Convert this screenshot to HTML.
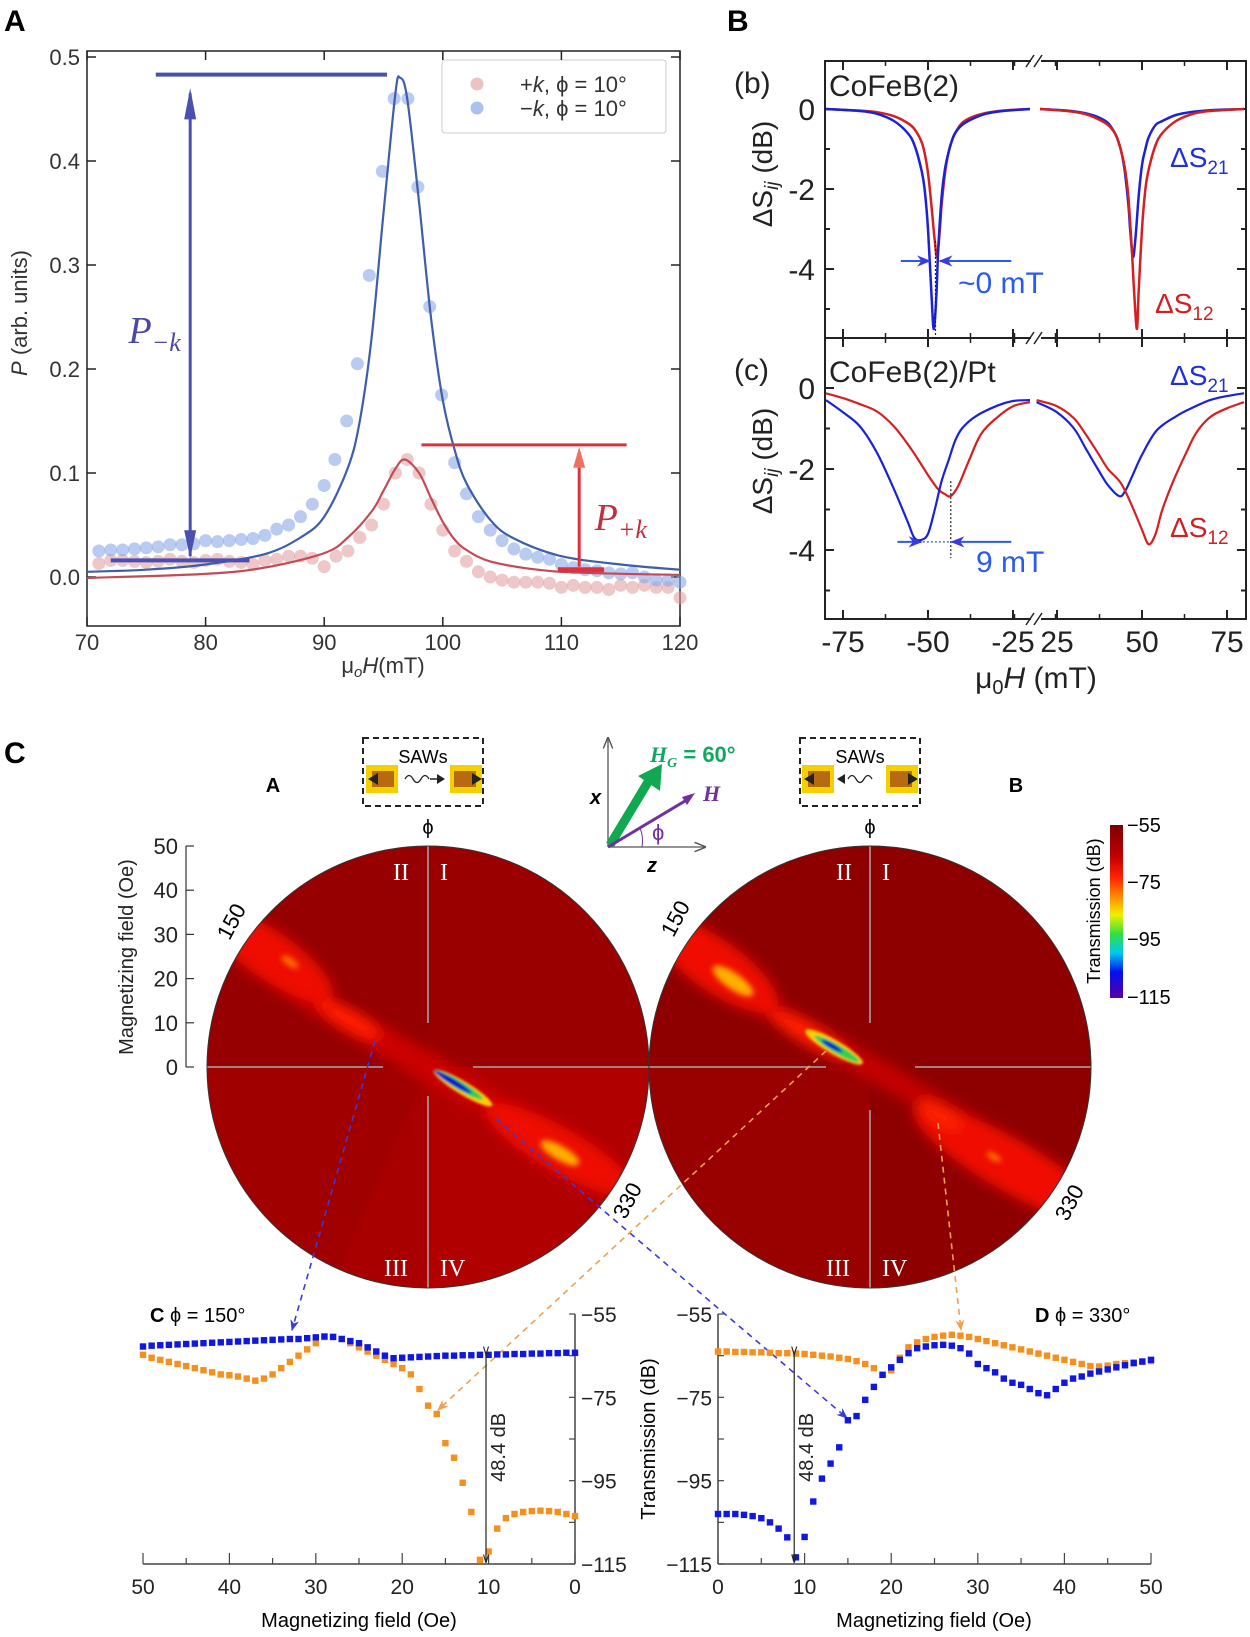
<!DOCTYPE html>
<html><head><meta charset="utf-8"><style>
html,body{margin:0;padding:0;background:#fff;}
svg{display:block;font-family:"Liberation Sans",sans-serif;}
</style></head><body>
<svg id="fig" width="1250" height="1637" viewBox="0 0 1250 1637" xmlns="http://www.w3.org/2000/svg">
<defs>
<filter id="bl6" x="-50%" y="-50%" width="200%" height="200%"><feGaussianBlur stdDeviation="6"/></filter>
<filter id="bl3" x="-50%" y="-50%" width="200%" height="200%"><feGaussianBlur stdDeviation="3"/></filter>
<filter id="bl1" x="-50%" y="-50%" width="200%" height="200%"><feGaussianBlur stdDeviation="1.2"/></filter>
<clipPath id="cl1"><circle cx="428" cy="1067" r="221"/></clipPath>
<clipPath id="cl2"><circle cx="870" cy="1067" r="221"/></clipPath>
<linearGradient id="cbar" x1="0" y1="0" x2="0" y2="1">
<stop offset="0" stop-color="#7a0000"/><stop offset="0.18" stop-color="#c00000"/><stop offset="0.3" stop-color="#ff2000"/><stop offset="0.42" stop-color="#ff9000"/><stop offset="0.52" stop-color="#f0f000"/><stop offset="0.63" stop-color="#30e040"/><stop offset="0.74" stop-color="#00c8f0"/><stop offset="0.85" stop-color="#0010f0"/><stop offset="1" stop-color="#5a00a0"/></linearGradient>
<marker id="ahB" viewBox="0 0 10 10" refX="9" refY="5" markerWidth="7" markerHeight="7" orient="auto"><path d="M0,1 L10,5 L0,9 L3,5z" fill="#3a3ae0"/></marker>
<marker id="ahO" viewBox="0 0 10 10" refX="9" refY="5" markerWidth="7" markerHeight="7" orient="auto"><path d="M0,1 L10,5 L0,9 L3,5z" fill="#f0a050"/></marker>
<marker id="ahK" viewBox="0 0 10 10" refX="9" refY="5" markerWidth="7" markerHeight="7" orient="auto"><path d="M0,2 L10,5 L0,8" fill="none" stroke="#222" stroke-width="1.3"/></marker>
<marker id="ahG" viewBox="0 0 10 10" refX="9" refY="5" markerWidth="9" markerHeight="9" orient="auto"><path d="M0,1 L10,5 L0,9" fill="none" stroke="#555" stroke-width="1.2"/></marker>
</defs>

<text x="4" y="31" font-size="30" font-weight="bold">A</text>
<text x="727" y="31" font-size="30" font-weight="bold">B</text>
<text x="4" y="763" font-size="30" font-weight="bold">C</text>

<g id="pa">
<rect x="87" y="51" width="593" height="575" fill="none" stroke="#222" stroke-width="1.5"/>
<text transform="translate(27,313) rotate(-90)" font-size="22" text-anchor="middle" fill="#333"><tspan font-style="italic">P</tspan> (arb. units)</text>
<text x="383" y="673" font-size="22" text-anchor="middle" fill="#333">μ<tspan font-size="15" font-style="italic" dy="4">o</tspan><tspan font-style="italic" dy="-4">H</tspan>(mT)</text>
<rect x="442" y="60" width="224" height="73" rx="3" fill="#fff" stroke="#ccc"/>
<circle cx="477" cy="84" r="6.5" fill="#e09a9a" opacity="0.6"/>
<circle cx="477" cy="108" r="6.5" fill="#90aee8" opacity="0.75"/>
<text x="520" y="92" font-size="22" fill="#333">+<tspan font-style="italic">k</tspan>, ϕ = 10°</text>
<text x="520" y="116" font-size="22" fill="#333">−<tspan font-style="italic">k</tspan>, ϕ = 10°</text>
</g>

<g id="pb">
<text transform="translate(772,174) rotate(-90)" font-size="28" text-anchor="middle" fill="#222">ΔS<tspan font-size="19" font-style="italic" dy="6">ij</tspan><tspan dy="-6"> (dB)</tspan></text>
<text transform="translate(772,461) rotate(-90)" font-size="28" text-anchor="middle" fill="#222">ΔS<tspan font-size="19" font-style="italic" dy="6">ij</tspan><tspan dy="-6"> (dB)</tspan></text>
<text x="1036" y="688" font-size="30" text-anchor="middle" fill="#222">μ<tspan font-size="20" dy="6">0</tspan><tspan font-style="italic" dy="-6">H</tspan> (mT)</text>
<text x="734" y="93" font-size="30" fill="#222">(b)</text>
<text x="829" y="96" font-size="30" fill="#222">CoFeB(2)</text>
<text x="734" y="380" font-size="30" fill="#222">(c)</text>
<text x="829" y="382" font-size="30" fill="#222">CoFeB(2)/Pt</text>
<text x="1170" y="167" font-size="28" fill="#2030d8">ΔS<tspan font-size="19" dy="7">21</tspan></text>
<text x="1155" y="313" font-size="28" fill="#d02020">ΔS<tspan font-size="19" dy="7">12</tspan></text>
<text x="1170" y="385" font-size="28" fill="#2030d8">ΔS<tspan font-size="19" dy="7">21</tspan></text>
<text x="1170" y="537" font-size="28" fill="#d02020">ΔS<tspan font-size="19" dy="7">12</tspan></text>
<text x="958" y="293" font-size="30" fill="#2a5af0">~0 mT</text>
<text x="976" y="572" font-size="30" fill="#2a5af0">9 mT</text>
</g>

<g>
<g clip-path="url(#cl1)">
<circle cx="428" cy="1067" r="221" fill="#a00000"/>
<path d="M428,1067 L206,1067 A222,222 0 0 1 428,846z" fill="#960000"/>
<path d="M428,1067 L428,846 A222,222 0 0 1 650,1067z" fill="#9a0000"/>
<path d="M428,1067 L428,1290 A222,222 0 0 0 650,1067z" fill="#b00000"/>
<path d="M428,1067 L330,1290 L428,1290z" fill="#a80000"/>
<g filter="url(#bl6)">
<ellipse cx="428" cy="1067" rx="230" ry="14" fill="#cc0000" transform="rotate(30 428 1067)"/>
<ellipse cx="270" cy="955" rx="75" ry="24" fill="#ee1000" transform="rotate(35 270 955)"/>
<ellipse cx="350" cy="1020" rx="35" ry="10" fill="#ff1a00" transform="rotate(30 350 1020)"/>
<ellipse cx="560" cy="1150" rx="85" ry="22" fill="#ee1000" transform="rotate(30 560 1150)"/>
</g>
<g filter="url(#bl3)">
<ellipse cx="290" cy="962" rx="10" ry="4" fill="#ff7000" transform="rotate(35 290 962)"/>
<ellipse cx="560" cy="1153" rx="22" ry="7" fill="#ffb000" transform="rotate(30 560 1153)"/>
</g>
<g filter="url(#bl1)">
<ellipse cx="463" cy="1088" rx="34" ry="6.5" fill="#ffcc00" transform="rotate(31 463 1088)"/>
<ellipse cx="459" cy="1085" rx="28" ry="4.5" fill="#30d050" transform="rotate(31 459 1085)"/>
<ellipse cx="453" cy="1082" rx="22" ry="3" fill="#0a10d0" transform="rotate(31 453 1082)"/>
</g>
<line x1="428" y1="846" x2="428" y2="1023" stroke="#aaa" stroke-width="1.5"/>
<line x1="428" y1="1096" x2="428" y2="1290" stroke="#aaa" stroke-width="1.5"/>
<line x1="206" y1="1067" x2="383" y2="1067" stroke="#aaa" stroke-width="1.5"/>
<line x1="473" y1="1067" x2="650" y2="1067" stroke="#aaa" stroke-width="1.5"/>
</g>
<circle cx="428" cy="1067" r="221" fill="none" stroke="#333" stroke-width="1"/>
<g font-family="Liberation Serif, serif" font-size="24" fill="#fff">
<text x="393" y="880">II</text><text x="440" y="880">I</text><text x="384" y="1276">III</text><text x="440" y="1276">IV</text>
</g>
<text x="428" y="834" font-size="20" text-anchor="middle">ϕ</text>
<text transform="translate(238,925) rotate(-62)" font-size="22" text-anchor="middle">150</text>
<text transform="translate(634,1204) rotate(-62)" font-size="22" text-anchor="middle">330</text>
<text x="273" y="792" font-size="20" font-weight="bold" text-anchor="middle">A</text>
</g>

<g>
<g clip-path="url(#cl2)">
<circle cx="870" cy="1067" r="221" fill="#8e0000"/>
<path d="M870,1067 L648,1067 A222,222 0 0 0 870,1290z" fill="#990000"/>
<g filter="url(#bl6)">
<ellipse cx="870" cy="1067" rx="230" ry="12" fill="#c40000" transform="rotate(30 870 1067)"/>
<ellipse cx="715" cy="965" rx="75" ry="26" fill="#f01000" transform="rotate(35 715 965)"/>
<ellipse cx="810" cy="1035" rx="45" ry="11" fill="#ff1a00" transform="rotate(30 810 1035)"/>
<ellipse cx="1010" cy="1165" rx="110" ry="26" fill="#f01000" transform="rotate(30 1010 1165)"/>
<ellipse cx="940" cy="1115" rx="25" ry="9" fill="#ff2000" transform="rotate(30 940 1115)"/>
</g>
<g filter="url(#bl3)">
<ellipse cx="733" cy="981" rx="24" ry="8" fill="#ffb000" transform="rotate(35 733 981)"/>
<ellipse cx="994" cy="1157" rx="8" ry="3" fill="#ff8000" transform="rotate(30 994 1157)"/>
</g>
<g filter="url(#bl1)">
<ellipse cx="834" cy="1047" rx="33" ry="7" fill="#ffcc00" transform="rotate(30 834 1047)"/>
<ellipse cx="837" cy="1049" rx="26" ry="4.5" fill="#30d050" transform="rotate(30 837 1049)"/>
<ellipse cx="832" cy="1046" rx="12" ry="2.5" fill="#0a10d0" transform="rotate(30 832 1046)"/>
</g>
<line x1="870" y1="846" x2="870" y2="1023" stroke="#aaa" stroke-width="1.5"/>
<line x1="870" y1="1110" x2="870" y2="1290" stroke="#aaa" stroke-width="1.5"/>
<line x1="648" y1="1067" x2="826" y2="1067" stroke="#aaa" stroke-width="1.5"/>
<line x1="915" y1="1067" x2="1092" y2="1067" stroke="#aaa" stroke-width="1.5"/>
</g>
<circle cx="870" cy="1067" r="221" fill="none" stroke="#333" stroke-width="1"/>
<g font-family="Liberation Serif, serif" font-size="24" fill="#fff">
<text x="836" y="880">II</text><text x="882" y="880">I</text><text x="826" y="1276">III</text><text x="882" y="1276">IV</text>
</g>
<text x="870" y="834" font-size="20" text-anchor="middle">ϕ</text>
<text transform="translate(682,922) rotate(-62)" font-size="22" text-anchor="middle">150</text>
<text transform="translate(1076,1206) rotate(-62)" font-size="22" text-anchor="middle">330</text>
<text x="1016" y="792" font-size="20" font-weight="bold" text-anchor="middle">B</text>
</g>

<g font-size="22" fill="#222">
<line x1="186" y1="846" x2="186" y2="1067" stroke="#333" stroke-width="1.2"/>
<text transform="translate(133,957) rotate(-90)" font-size="20" text-anchor="middle">Magnetizing field (Oe)</text>
</g>

<g>
<rect x="1110" y="825" width="13" height="173" fill="url(#cbar)"/>
<text x="1127" y="832" font-size="20">−55</text>
<text x="1127" y="889" font-size="20">−75</text>
<text x="1127" y="946" font-size="20">−95</text>
<text x="1127" y="1004" font-size="20">−115</text>
<text transform="translate(1100,911) rotate(-90)" font-size="18" text-anchor="middle">Transmission (dB)</text>
</g>

<g>
<rect x="363" y="738" width="120" height="68" fill="none" stroke="#222" stroke-width="2" stroke-dasharray="6,4"/>
<text x="423" y="763" font-size="18" text-anchor="middle">SAWs</text>
<rect x="366" y="765" width="32" height="28" fill="#f5d000"/><rect x="372" y="771" width="22" height="16" fill="#b86a10"/>
<path d="M368,779 L378,773 L378,785z" fill="#222"/>
<rect x="450" y="765" width="32" height="28" fill="#f5d000"/><rect x="454" y="771" width="22" height="16" fill="#b86a10"/>
<path d="M482,779 L472,773 L472,785z" fill="#222"/>
<path d="M405,779 q4,-7 8,0 t8,0 t8,0" fill="none" stroke="#222" stroke-width="1.3"/>
<path d="M430,779 L437,779" stroke="#222" stroke-width="1.5"/><path d="M437,774 L445,779 L437,784z" fill="#222"/>
</g>
<g>
<rect x="800" y="738" width="120" height="68" fill="none" stroke="#222" stroke-width="2" stroke-dasharray="6,4"/>
<text x="860" y="763" font-size="18" text-anchor="middle">SAWs</text>
<rect x="802" y="765" width="32" height="28" fill="#f5d000"/><rect x="808" y="771" width="22" height="16" fill="#b86a10"/>
<path d="M804,779 L814,773 L814,785z" fill="#222"/>
<rect x="886" y="765" width="32" height="28" fill="#f5d000"/><rect x="890" y="771" width="22" height="16" fill="#b86a10"/>
<path d="M918,779 L908,773 L908,785z" fill="#222"/>
<path d="M845,774 L837,779 L845,784z" fill="#222"/>
<path d="M848,779 q4,-7 8,0 t8,0 t8,0" fill="none" stroke="#222" stroke-width="1.3"/>
</g>

<g>
<line x1="608" y1="847" x2="608" y2="738" stroke="#555" stroke-width="1.3" marker-end="url(#ahG)"/>
<line x1="608" y1="847" x2="705" y2="847" stroke="#555" stroke-width="1.3" marker-end="url(#ahG)"/>
<text x="590" y="804" font-size="20" font-weight="bold" font-style="italic">x</text>
<text x="647" y="872" font-size="20" font-weight="bold" font-style="italic">z</text>
<line x1="610" y1="845" x2="648" y2="782" stroke="#10a850" stroke-width="9"/>
<path d="M638,776 L662,764 L660,791z" fill="#10a850"/>
<line x1="608" y1="847" x2="690" y2="798" stroke="#7030a0" stroke-width="3"/>
<path d="M682,797 L695,793 L687,805z" fill="#7030a0"/>
<path d="M640,828 A34,34 0 0 1 642,847" fill="none" stroke="#7030a0" stroke-width="1"/>
<text x="650" y="762" font-size="22" font-weight="bold" fill="#10a860" font-family="Liberation Serif, serif" font-style="italic">H<tspan font-size="14" dy="5">G</tspan><tspan dy="-5" font-family="Liberation Sans, sans-serif" font-style="normal"> = 60°</tspan></text>
<text x="703" y="801" font-size="22" font-weight="bold" font-style="italic" fill="#7030a0" font-family="Liberation Serif, serif">H</text>
<text x="652" y="840" font-size="22" fill="#7030a0">ϕ</text>
</g>

<text x="150" y="1322" font-size="20"><tspan font-weight="bold">C</tspan>  ϕ = 150°</text>
<text x="1035" y="1322" font-size="20"><tspan font-weight="bold">D</tspan>  ϕ = 330°</text>
<text x="359" y="1627" font-size="20" text-anchor="middle">Magnetizing field (Oe)</text>
<text x="934" y="1627" font-size="20" text-anchor="middle">Magnetizing field (Oe)</text>
<text transform="translate(655,1439) rotate(-90)" font-size="20" text-anchor="middle">Transmission (dB)</text>

<g fill="none" stroke-width="1.6" stroke-dasharray="6,5">
<line x1="375" y1="1041" x2="292" y2="1330" stroke="#3a3ae0" marker-end="url(#ahB)"/>
<line x1="496" y1="1119" x2="847" y2="1418" stroke="#3a3ae0" marker-end="url(#ahB)"/>
<line x1="826" y1="1051" x2="438" y2="1410" stroke="#f0a050" marker-end="url(#ahO)"/>
<line x1="938" y1="1123" x2="961" y2="1330" stroke="#f0a050" marker-end="url(#ahO)"/>
</g>

<g id="dyn"></g>
</svg>

<script>
// ---------- Panel A data ----------
const aBlueX = [71,72,73,74,75,76,77,78,79,80,81,82,83,84,85,86,87,88,89,90,90.9,91.9,92.8,93.8,94.9,95.9,97.06,97.9,98.9,99.9,101,102,103,104,105,106,107,108,109,110,111,112,113,114,115,116,117,118,119,120];
const aBlueY = [0.025,0.026,0.026,0.027,0.028,0.029,0.031,0.031,0.032,0.035,0.034,0.035,0.036,0.037,0.04,0.046,0.05,0.058,0.07,0.088,0.113,0.15,0.205,0.29,0.39,0.46,0.46,0.375,0.26,0.175,0.11,0.08,0.058,0.045,0.035,0.027,0.022,0.019,0.017,0.012,0.009,0.007,0.006,0.004,0.003,0.004,0.0,-0.003,-0.003,-0.005];
const aRedX = [71,72,73,74,75,76,77,78,79,80,81,82,83,84,85,86,87,88,89,90,91,92,93,94,95,96,97,98,99,100,101,102,103,104,105,106,107,108,109,110,111,112,113,114,115,116,117,118,119,120];
const aRedY = [0.013,0.016,0.016,0.015,0.014,0.015,0.017,0.015,0.014,0.016,0.017,0.015,0.014,0.012,0.016,0.017,0.02,0.02,0.018,0.01,0.02,0.025,0.038,0.05,0.07,0.1,0.113,0.1,0.07,0.045,0.025,0.015,0.005,0.0,-0.003,-0.005,-0.005,-0.005,-0.006,-0.01,-0.008,-0.01,-0.01,-0.012,-0.008,-0.01,-0.008,-0.01,-0.01,-0.02];
const aBlueFitX = [70,75,80,85,88,90,92,93,94,95,96,96.4,97,98,99,100,101,102,104,106,110,115,120];
const aBlueFitY = [0.005,0.007,0.012,0.022,0.038,0.058,0.105,0.15,0.23,0.35,0.465,0.48,0.46,0.36,0.25,0.17,0.122,0.09,0.055,0.037,0.02,0.012,0.007];
const aRedFitX = [70,80,85,90,92,94,95,96,96.8,98,99,100,101,102,104,108,112,120];
const aRedFitY = [-0.001,0.003,0.009,0.023,0.038,0.063,0.083,0.104,0.113,0.1,0.076,0.053,0.036,0.026,0.015,0.007,0.004,0.002];
const aXTicks = [70,80,90,100,110,120];
const aYTicks = [0.0,0.1,0.2,0.3,0.4,0.5];

// ---------- Panel B data ----------
const bTicksX = [-75,-50,-25,25,50,75];
const bTicksY = [0,-2,-4];
const b21LX = [-80,-70,-65,-60,-56,-54,-52,-51,-50,-49,-48.3,-47.5,-47,-46,-45,-44,-43,-42,-40,-37,-33,-28,-20];
const b21LY = [0,-0.05,-0.12,-0.3,-0.6,-0.9,-1.5,-2.0,-3.0,-4.6,-5.5,-4.6,-3.5,-2.2,-1.5,-1.1,-0.8,-0.6,-0.4,-0.25,-0.12,-0.05,0];
const b12LX = [-80,-70,-65,-60,-56,-54,-52,-51,-50,-49,-48,-47.3,-46.5,-46,-45,-44,-43,-42,-40,-37,-33,-28,-20];
const b12LY = [0,-0.04,-0.08,-0.18,-0.35,-0.5,-0.8,-1.1,-1.6,-2.4,-3.3,-3.7,-3.0,-2.4,-1.6,-1.1,-0.8,-0.6,-0.35,-0.2,-0.1,-0.04,0];
const b21RX = [20,28,33,37,40,42,43,44,45,46,46.5,47.3,48,49,50,51,52,54,56,60,65,70,80];
const b21RY = [0,-0.04,-0.1,-0.2,-0.35,-0.6,-0.8,-1.1,-1.6,-2.4,-3.0,-3.7,-3.3,-2.2,-1.4,-1.0,-0.7,-0.4,-0.3,-0.15,-0.07,-0.03,0];
const b12RX = [20,28,33,37,40,42,43,44,45,46,47,47.7,48.5,49,50,51,52,54,56,60,65,70,80];
const b12RY = [0,-0.05,-0.12,-0.25,-0.4,-0.6,-0.8,-1.1,-1.5,-2.2,-3.5,-4.6,-5.5,-4.6,-3.0,-2.0,-1.5,-0.9,-0.6,-0.3,-0.12,-0.05,0];
const c21LX = [-80,-75,-70,-65,-60,-56,-54,-52,-50,-48,-46,-44,-42,-40,-36,-30,-25,-20];
const c21LY = [-0.3,-0.6,-0.95,-1.6,-2.5,-3.3,-3.7,-3.75,-3.6,-3.0,-2.3,-1.8,-1.3,-1.0,-0.7,-0.45,-0.32,-0.3];
const c12LX = [-80,-75,-70,-65,-60,-55,-50,-47,-45,-43.3,-41,-38,-34.5,-30,-25,-20];
const c12LY = [-0.13,-0.25,-0.4,-0.58,-0.95,-1.5,-2.15,-2.5,-2.62,-2.67,-2.4,-1.8,-1.15,-0.75,-0.45,-0.35];
const c21RX = [19,25,30,33.5,37,40,43.3,45,47,50,54.3,60,64.5,70,75,80];
const c21RY = [-0.35,-0.6,-1.0,-1.5,-2.0,-2.4,-2.67,-2.55,-2.2,-1.65,-1.05,-0.7,-0.5,-0.3,-0.2,-0.13];
const c12RX = [19,25,30,33.5,37,40,43.8,47,50,52,54,56,59.5,63,66,70,75,80];
const c12RY = [-0.3,-0.45,-0.75,-1.15,-1.6,-2.0,-2.35,-2.9,-3.5,-3.86,-3.6,-3.0,-2.24,-1.6,-1.1,-0.72,-0.5,-0.35];

// ---------- Panel C bottom line plots ----------
const oeField = [0,1,2,3,4,5,6,7,8,9,10,11,12,13,14,15,16,17,18,19,20,21,22,23,24,25,26,27,28,29,30,31,32,33,34,35,36,37,38,39,40,41,42,43,44,45,46,47,48,49,50];
const cOrange = [-103.5,-103,-102.5,-102.3,-102.2,-102.3,-102.5,-103,-104,-106.5,-112,-114,-102.5,-95.5,-89.5,-86,-79,-77,-73,-69.5,-68,-67,-66,-65,-64,-63,-62,-61,-60.5,-60.5,-62,-63.5,-65,-66.5,-68,-69.5,-70.5,-71,-70.5,-70,-69.7,-69.5,-69,-68.5,-68,-67.5,-67,-66.5,-66,-65.5,-64.8];
const cBlue = [-64.3,-64.3,-64.4,-64.4,-64.5,-64.5,-64.6,-64.6,-64.7,-64.7,-64.8,-64.8,-64.9,-64.9,-65,-65,-65.1,-65.2,-65.3,-65.4,-65.5,-65.6,-65,-64,-63,-62,-61.5,-61,-60.5,-60.4,-60.6,-60.8,-61,-61,-61.1,-61.2,-61.3,-61.4,-61.5,-61.6,-61.7,-61.8,-61.9,-62,-62.1,-62.2,-62.3,-62.4,-62.5,-62.6,-62.8];
const dOrange = [-64,-64,-64.1,-64.1,-64.2,-64.2,-64.3,-64.4,-64.4,-64.5,-64.6,-64.8,-65,-65.2,-65.5,-65.8,-66.3,-67,-68,-69.6,-68.5,-65.5,-63,-61.8,-61,-60.5,-60.2,-60,-60.2,-60.5,-61,-61.5,-62,-62.5,-63,-63.5,-64,-64.5,-65,-65.5,-66,-66.5,-67,-67.5,-67.6,-67.4,-67,-66.8,-66.6,-66.5,-66.3];
const dBlue = [-103,-103,-103,-103.2,-103.5,-104,-105,-106.5,-108.6,-113.4,-108.5,-100,-94.5,-90.9,-87,-80.5,-79.5,-75.6,-72.5,-69.6,-67.8,-66,-64.4,-63.2,-62.8,-62.5,-62.4,-62.6,-63.2,-64.5,-67,-68,-69,-70.5,-71.5,-72,-73,-74,-74.5,-73,-71.5,-70.5,-70,-69.3,-68.8,-68.3,-67.8,-67.3,-66.8,-66.4,-66];
const tTicks = [-55,-75,-95,-115];
const fieldTicks = [0,10,20,30,40,50];
const radialTicks = [0,10,20,30,40,50];

const xA = v => 87 + (v - 70) * 11.86;
const yA = v => 577 - v * 1040;
const xB = v => v < 0 ? 843 + (v + 75) * 3.4 : 1057 + (v - 25) * 3.4;
const yBb = v => 109 - v * 40;
const yBc = v => 388 - v * 40.5;
const xL = v => 575 - v * 8.64;
const xR = v => 718 + v * 8.66;
const yT = v => 1314 + (-55 - v) * 4.167;
const yRad = v => 1067 - v * 4.42;

const NS = 'http://www.w3.org/2000/svg';
const root = document.getElementById('dyn');
function mk(tag, attrs, parent) {
  const el = document.createElementNS(NS, tag);
  for (const k in attrs) el.setAttribute(k, attrs[k]);
  (parent || root).appendChild(el);
  return el;
}
function smooth(pts) {
  let d = 'M' + pts[0][0].toFixed(1) + ',' + pts[0][1].toFixed(1);
  for (let i = 0; i < pts.length - 1; i++) {
    const p0 = pts[Math.max(0, i - 1)], p1 = pts[i], p2 = pts[i + 1], p3 = pts[Math.min(pts.length - 1, i + 2)];
    const c1 = [p1[0] + (p2[0] - p0[0]) / 6, p1[1] + (p2[1] - p0[1]) / 6];
    const c2 = [p2[0] - (p3[0] - p1[0]) / 6, p2[1] - (p3[1] - p1[1]) / 6];
    d += ' C' + c1[0].toFixed(1) + ',' + c1[1].toFixed(1) + ' ' + c2[0].toFixed(1) + ',' + c2[1].toFixed(1) + ' ' + p2[0].toFixed(1) + ',' + p2[1].toFixed(1);
  }
  return d;
}
function curve(xs, ys, fx, fy, color, w, name) {
  const el = mk('path', {d: smooth(xs.map((x, i) => [fx(x), fy(ys[i])])), fill: 'none', stroke: color, 'stroke-width': w, 'stroke-linejoin': 'round'});
  
  
  return el;
}

aXTicks.forEach(t => {
  const l1 = mk('line', {x1: xA(t), x2: xA(t), y1: 626, y2: 617, stroke: '#222', 'stroke-width': 1.5});
  
  
  const l2 = mk('line', {x1: xA(t), x2: xA(t), y1: 51, y2: 60, stroke: '#222', 'stroke-width': 1.5});
  
  
  const tx = mk('text', {x: xA(t), y: 650, 'font-size': 22, 'text-anchor': 'middle', fill: '#333'});
  tx.textContent = t;
  
  
});
aYTicks.forEach(t => {
  const l1 = mk('line', {x1: 87, x2: 96, y1: yA(t), y2: yA(t), stroke: '#222', 'stroke-width': 1.5});
  
  
  const l2 = mk('line', {x1: 680, x2: 671, y1: yA(t), y2: yA(t), stroke: '#222', 'stroke-width': 1.5});
  
  
  const tx = mk('text', {x: 80, y: yA(t) + 8, 'font-size': 22, 'text-anchor': 'end', fill: '#333'});
  tx.textContent = t.toFixed(1);
  
  
});
aRedX.forEach((x, i) => {
  const c = mk('circle', {cx: xA(x), cy: yA(aRedY[i]), r: 6.5, fill: '#e09a9a', opacity: 0.55});
  
  
});
aBlueX.forEach((x, i) => {
  const c = mk('circle', {cx: xA(x), cy: yA(aBlueY[i]), r: 6.5, fill: '#8aa8e6', opacity: 0.6});
  
  
});
curve(aRedFitX, aRedFitY, xA, yA, '#c44a58', 2.2, 'plus-k-fit-line');
curve(aBlueFitX, aBlueFitY, xA, yA, '#3d5ea8', 2.2, 'minus-k-fit-line');
const annA = [
  ['line', {x1: xA(75.8), x2: xA(95.3), y1: yA(0.483), y2: yA(0.483), stroke: '#4a50b0', 'stroke-width': 4}, 'p-minus-k-top-line'],
  ['line', {x1: xA(72), x2: xA(83.7), y1: yA(0.016), y2: yA(0.016), stroke: '#4a50b0', 'stroke-width': 4}, 'p-minus-k-base-line'],
  ['line', {x1: xA(78.7), x2: xA(78.7), y1: yA(0.02), y2: yA(0.465), stroke: '#4a50b0', 'stroke-width': 3}, 'p-minus-k-arrow'],
  ['path', {d: `M${xA(78.7)-6},${yA(0.44)} L${xA(78.7)},${yA(0.47)} L${xA(78.7)+6},${yA(0.44)}z`, fill: '#4a50b0'}, 'p-minus-k-arrowhead-up'],
  ['path', {d: `M${xA(78.7)-6},${yA(0.045)} L${xA(78.7)},${yA(0.018)} L${xA(78.7)+6},${yA(0.045)}z`, fill: '#4a50b0'}, 'p-minus-k-arrowhead-down'],
  ['line', {x1: xA(98.2), x2: xA(115.5), y1: yA(0.127), y2: yA(0.127), stroke: '#e03040', 'stroke-width': 3}, 'p-plus-k-top-line'],
  ['line', {x1: xA(109.7), x2: xA(113.6), y1: yA(0.007), y2: yA(0.007), stroke: '#e03040', 'stroke-width': 5}, 'p-plus-k-base-line'],
  ['line', {x1: xA(111.5), x2: xA(111.5), y1: yA(0.01), y2: yA(0.12), stroke: '#e03040', 'stroke-width': 3}, 'p-plus-k-arrow'],
  ['path', {d: `M${xA(111.5)-6},${yA(0.105)} L${xA(111.5)},${yA(0.125)} L${xA(111.5)+6},${yA(0.105)}z`, fill: '#f07060'}, 'p-plus-k-arrowhead']
];
annA.forEach(a => {
  const el = mk(a[0], a[1]);
  
  
});
const pmk = mk('text', {x: xA(73.5), y: yA(0.225), 'font-size': 38, 'font-style': 'italic', 'font-family': 'Liberation Serif, serif', fill: '#4a4aa0'});
pmk.innerHTML = 'P<tspan font-size="26" dy="8">−k</tspan>';


const ppk = mk('text', {x: xA(112.8), y: yA(0.045), 'font-size': 38, 'font-style': 'italic', 'font-family': 'Liberation Serif, serif', fill: '#c03040'});
ppk.innerHTML = 'P<tspan font-size="26" dy="8">+k</tspan>';



[[61, 338, yBb, 'upper'], [338, 619, yBc, 'lower']].forEach(([top, bot, fy, nm]) => {
  const fr = mk('rect', {x: 825, y: top, width: 421, height: bot - top, fill: 'none', stroke: '#222', 'stroke-width': 2});
  
  
  bTicksX.forEach(t => {
    [[bot, bot - 9], [top, top + 9]].forEach(([a, b]) => {
      const l = mk('line', {x1: xB(t), x2: xB(t), y1: a, y2: b, stroke: '#222', 'stroke-width': 2});
      
      
    });
    const m = t < 0 ? t + 12.5 : t - 12.5;
    [[bot, bot - 5], [top, top + 5]].forEach(([a, b]) => {
      const l = mk('line', {x1: xB(m), x2: xB(m), y1: a, y2: b, stroke: '#222', 'stroke-width': 1.5});
      
      
    });
  });
  [0, -1, -2, -3, -4, -5].forEach(t => {
    const len = t % 2 === 0 ? 9 : 5;
    const l1 = mk('line', {x1: 825, x2: 825 + len, y1: fy(t), y2: fy(t), stroke: '#222', 'stroke-width': 2});
    
    
    const l2 = mk('line', {x1: 1246, x2: 1246 - len, y1: fy(t), y2: fy(t), stroke: '#222', 'stroke-width': 2});
    
    
  });
  bTicksY.forEach(t => {
    const tx = mk('text', {x: 815, y: fy(t) + 11, 'font-size': 30, 'text-anchor': 'end', fill: '#222'});
    tx.textContent = t === 0 ? '0' : String(t);
    
    
  });
});
[61, 338, 619].forEach(y => {
  const g = mk('rect', {x: 1031, y: y - 4, width: 10, height: 8, fill: '#fff'});
  
  
  const s = mk('path', {d: `M1026,${y + 6} L1034,${y - 6} M1034,${y + 6} L1042,${y - 6}`, stroke: '#222', 'stroke-width': 1.5, fill: 'none'});
  
  
});
bTicksX.forEach(t => {
  const tx = mk('text', {x: xB(t), y: 652, 'font-size': 30, 'text-anchor': 'middle', fill: '#222'});
  tx.textContent = t;
  
  
});
curve(b12LX, b12LY, xB, yBb, '#d42020', 2.5, 's12-upper-left');
curve(b21LX, b21LY, xB, yBb, '#1a22d8', 2.5, 's21-upper-left');
curve(b21RX, b21RY, xB, yBb, '#1a22d8', 2.5, 's21-upper-right');
curve(b12RX, b12RY, xB, yBb, '#d42020', 2.5, 's12-upper-right');
curve(c12LX, c12LY, xB, yBc, '#d42020', 2.2, 's12-lower-left');
curve(c21LX, c21LY, xB, yBc, '#1a22d8', 2.2, 's21-lower-left');
curve(c21RX, c21RY, xB, yBc, '#1a22d8', 2.2, 's21-lower-right');
curve(c12RX, c12RY, xB, yBc, '#d42020', 2.2, 's12-lower-right');
const annB = [
  ['line', {x1: xB(-47.8), x2: xB(-47.8), y1: yBb(-3.3), y2: yBb(-5.8), stroke: '#222', 'stroke-width': 1.2, 'stroke-dasharray': '2,2'}, 'peak-guide-upper'],
  ['line', {x1: xB(-58), x2: xB(-49.5), y1: yBb(-3.8), y2: yBb(-3.8), stroke: '#2a5af0', 'stroke-width': 2, 'marker-end': 'url(#ahB)'}, 'arrow-upper-left'],
  ['line', {x1: xB(-25.5), x2: xB(-46.5), y1: yBb(-3.8), y2: yBb(-3.8), stroke: '#2a5af0', 'stroke-width': 2, 'marker-end': 'url(#ahB)'}, 'arrow-upper-right'],
  ['line', {x1: xB(-43.3), x2: xB(-43.3), y1: yBc(-2.3), y2: yBc(-4.2), stroke: '#222', 'stroke-width': 1.2, 'stroke-dasharray': '2,2'}, 'peak-guide-lower'],
  ['line', {x1: xB(-51.5), x2: xB(-43.3), y1: yBc(-3.8), y2: yBc(-3.8), stroke: '#2a5af0', 'stroke-width': 1.2, 'stroke-dasharray': '2,2'}, 'shift-guide-lower'],
  ['line', {x1: xB(-59), x2: xB(-52), y1: yBc(-3.8), y2: yBc(-3.8), stroke: '#2a5af0', 'stroke-width': 2, 'marker-end': 'url(#ahB)'}, 'arrow-lower-left'],
  ['line', {x1: xB(-25.5), x2: xB(-43), y1: yBc(-3.8), y2: yBc(-3.8), stroke: '#2a5af0', 'stroke-width': 2, 'marker-end': 'url(#ahB)'}, 'arrow-lower-right']
];
annB.forEach(a => {
  const el = mk(a[0], a[1]);
  
  
});

radialTicks.forEach(t => {
  const l = mk('line', {x1: 186, x2: 194, y1: yRad(t), y2: yRad(t), stroke: '#333', 'stroke-width': 1.2});
  
  
  const tx = mk('text', {x: 178, y: yRad(t) + 8, 'font-size': 22, 'text-anchor': 'end', fill: '#222'});
  tx.textContent = t;
  
  
});

function axesBottom(fx, x0, x1, yAxisX, side, nm) {
  const b = mk('line', {x1: x0, x2: x1, y1: 1564, y2: 1564, stroke: '#444', 'stroke-width': 1.5});
  
  
  const v = mk('line', {x1: yAxisX, x2: yAxisX, y1: 1314, y2: 1564, stroke: '#444', 'stroke-width': 1.5});
  
  
  for (let f = 0; f <= 50; f += 5) {
    const t = mk('line', {x1: fx(f), x2: fx(f), y1: 1564, y2: f % 10 === 0 ? 1553 : 1558, stroke: '#444', 'stroke-width': 1.2});
    
    
  }
  fieldTicks.forEach(f => {
    const tx = mk('text', {x: fx(f), y: 1594, 'font-size': 21, 'text-anchor': 'middle', fill: '#222'});
    tx.textContent = f;
    
    
  });
  [-55, -65, -75, -85, -95, -105, -115].forEach(t => {
    const tk = mk('line', {x1: yAxisX, x2: yAxisX + side * 6, y1: yT(t), y2: yT(t), stroke: '#444', 'stroke-width': 1.2});
    
    
  });
  tTicks.forEach(t => {
    const tx = mk('text', {x: side < 0 ? yAxisX + 6 : yAxisX - 6, y: yT(t) + 8, 'font-size': 21, 'text-anchor': side < 0 ? 'start' : 'end', fill: '#222'});
    tx.textContent = '−' + Math.abs(t);
    
    
  });
}
axesBottom(xL, 143, 575, 575, -1, 'plot-c');
axesBottom(xR, 718, 1151, 718, 1, 'plot-d');
function squares(vals, fx, color, nm) {
  oeField.forEach((f, i) => {
    const r = mk('rect', {x: fx(f) - 3.2, y: yT(vals[i]) - 3.2, width: 6.4, height: 6.4, fill: color});
    
    
  });
}
squares(cOrange, xL, '#f5901e', 'plot-c-orange-point');
squares(cBlue, xL, '#1018e0', 'plot-c-blue-point');
squares(dOrange, xR, '#f5901e', 'plot-d-orange-point');
squares(dBlue, xR, '#1018e0', 'plot-d-blue-point');
[[xL(10.3), 'plot-c'], [xR(8.8), 'plot-d']].forEach(([x, nm]) => {
  const l = mk('line', {x1: x, x2: x, y1: yT(-64.6), y2: yT(-114.5), stroke: '#222', 'stroke-width': 1.2, 'marker-start': 'url(#ahK)', 'marker-end': 'url(#ahK)'});
  
  
  const tx = mk('text', {transform: `translate(${x + 19},${yT(-87)}) rotate(-90)`, 'font-size': 20, 'text-anchor': 'middle', fill: '#222'});
  tx.textContent = '48.4 dB';
  
  
});
</script>
</body></html>
